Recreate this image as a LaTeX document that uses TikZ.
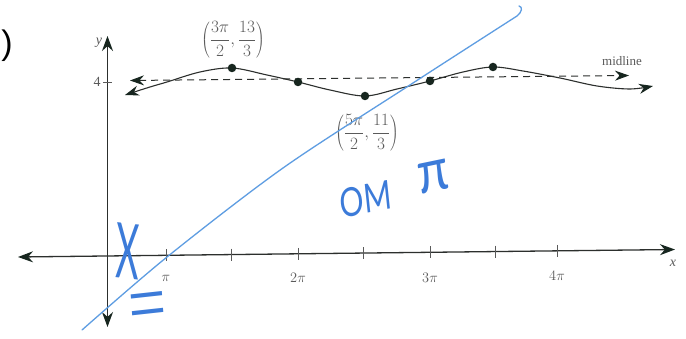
\documentclass[tikz,border=0pt]{standalone}
\usepackage{fontspec}
\setmainfont{Liberation Serif}
\newfontfamily\handfont{Lato}
\newfontfamily\serifhand{Liberation Serif}
\newfontfamily\arialfont{Liberation Sans}
\usetikzlibrary{arrows.meta}
\definecolor{ink}{HTML}{2C2F2D}
\definecolor{arrowink}{HTML}{17261F}
\definecolor{labelgrey}{HTML}{5A5A5A}
\definecolor{penblue}{HTML}{3C7BD9}
\definecolor{lineblue}{HTML}{5E9DE2}
\begin{document}
\begin{tikzpicture}[x=1pt,y=-1pt,
  axisline/.style={draw=ink, line width=1.3pt, {Stealth[length=15pt,width=11pt,color=arrowink]}-{Stealth[length=15pt,width=11pt,color=arrowink]}},
  curveline/.style={draw=ink, line width=1.1pt, {Stealth[length=14pt,width=10pt,color=arrowink]}-{Stealth[length=14pt,width=10pt,color=arrowink]}},
  midline/.style={draw=ink, line width=1.0pt, dash pattern=on 7pt off 5pt, {Stealth[length=14pt,width=10pt,color=arrowink]}-{Stealth[length=14pt,width=10pt,color=arrowink]}},
  tickmark/.style={draw=labelgrey, line width=0.8pt},
  ticklabel/.style={text=labelgrey, font=\fontsize{14}{14}\selectfont, inner sep=0pt},
  dotpt/.style={circle, fill=arrowink, inner sep=0pt, minimum size=8.5pt},
  ptlabel/.style={text=labelgrey, font=\fontsize{18}{18}\selectfont, inner sep=0pt},
  pen/.style={text=penblue, inner sep=0pt, font=\handfont}
]
\useasboundingbox (0,0) rectangle (686,339);
\fill[white] (0,0) rectangle (686,339);

% stray parenthesis
\node[inner sep=0pt, font=\arialfont\fontsize{34}{34}\selectfont] (paren) at (7,46) {)};

% axes
\coordinate (xl) at (18,257);
\coordinate (xr) at (675,249.5);
\coordinate (yt) at (107.5,36);
\coordinate (yb) at (107.5,327);
\draw[axisline] (xl) -- (xr);
\draw[axisline] (yb) -- (yt);
\node[text=labelgrey, font=\itshape\fontsize{14}{14}\selectfont, inner sep=0pt] (ylab) at (99,43) {y};
\node[text=labelgrey, font=\itshape\fontsize{14}{14}\selectfont, inner sep=0pt] (xlab) at (673,263) {x};

% y tick at 4
\draw[tickmark] (103,82) -- (112,82);
\node[ticklabel] (four) at (97,82) {4};

% x ticks
\foreach \xx/\yy in {166/255.3, 231/254.6, 298/253.8, 363/253.1, 430/252.3, 495/251.6, 557/250.8}
  \draw[tickmark] (\xx,\yy-6) -- (\xx,\yy+6);
\node[ticklabel] (lpi) at (166,278) {$\pi$};
\node[ticklabel] (l2pi) at (298,278) {$2\pi$};
\node[ticklabel] (l3pi) at (430,278) {$3\pi$};
\node[ticklabel] (l4pi) at (557,276) {$4\pi$};

% midline
\coordinate (ml) at (130,80.5);
\coordinate (mr) at (629,75.5);
\draw[midline] (ml) -- (mr);
\node[text=labelgrey, font=\fontsize{13}{13}\selectfont, inner sep=0pt] (midlab) at (622,61) {midline};

% sinusoid
\draw[curveline] plot[smooth, tension=0.55] coordinates {
  (125,95) (150,87) (167,82) (200,72) (232,68) (267,75) (298,82)
  (330,90) (365,96) (397,89) (430,81) (463,72) (493,67) (523,71)
  (560,78) (597,86) (630,89) (653,86)};

% key points
\node[dotpt] (p1) at (232,68) {};
\node[dotpt] (p2) at (298,82) {};
\node[dotpt] (p3) at (365,96) {};
\node[dotpt] (p4) at (430,81) {};
\node[dotpt] (p5) at (493,67) {};

\node[ptlabel] (lab1) at (233,40) {$\displaystyle\left(\frac{3\pi}{2},\frac{13}{3}\right)$};
\node[ptlabel] (lab2) at (367,133) {$\displaystyle\left(\frac{5\pi}{2},\frac{11}{3}\right)$};

% handwritten blue line
\coordinate (b0) at (82,330);
\coordinate (b1) at (167,257);
\coordinate (b2) at (283,168);
\coordinate (b3) at (413,83);
\coordinate (b4) at (517,16);
\coordinate (b5) at (519,6);
\draw[lineblue, line width=1.3pt, line cap=round] plot[smooth, tension=0.5] coordinates {(b0) (b1) (b2) (b3) (b4)}
  .. controls (522,12) and (523,7) .. (b5);

% handwritten marks
\node[pen, font=\handfont\fontsize{48}{48}\selectfont, xscale=0.75, yscale=1.6, rotate=-3] (hx) at (128,251) {X};
\node[pen, font=\serifhand\fontsize{84}{84}\selectfont, xscale=0.8, rotate=5] (heq) at (148,312) {=};
\node[pen, font=\handfont\fontsize{40}{40}\selectfont, xscale=0.75, rotate=8] (hom) at (366,199) {OM};
\node[pen, font=\handfont\fontsize{46}{46}\selectfont, xscale=1.1, yscale=1.3, rotate=10] (hpi) at (434,177) {π};
\end{tikzpicture}
\end{document}
